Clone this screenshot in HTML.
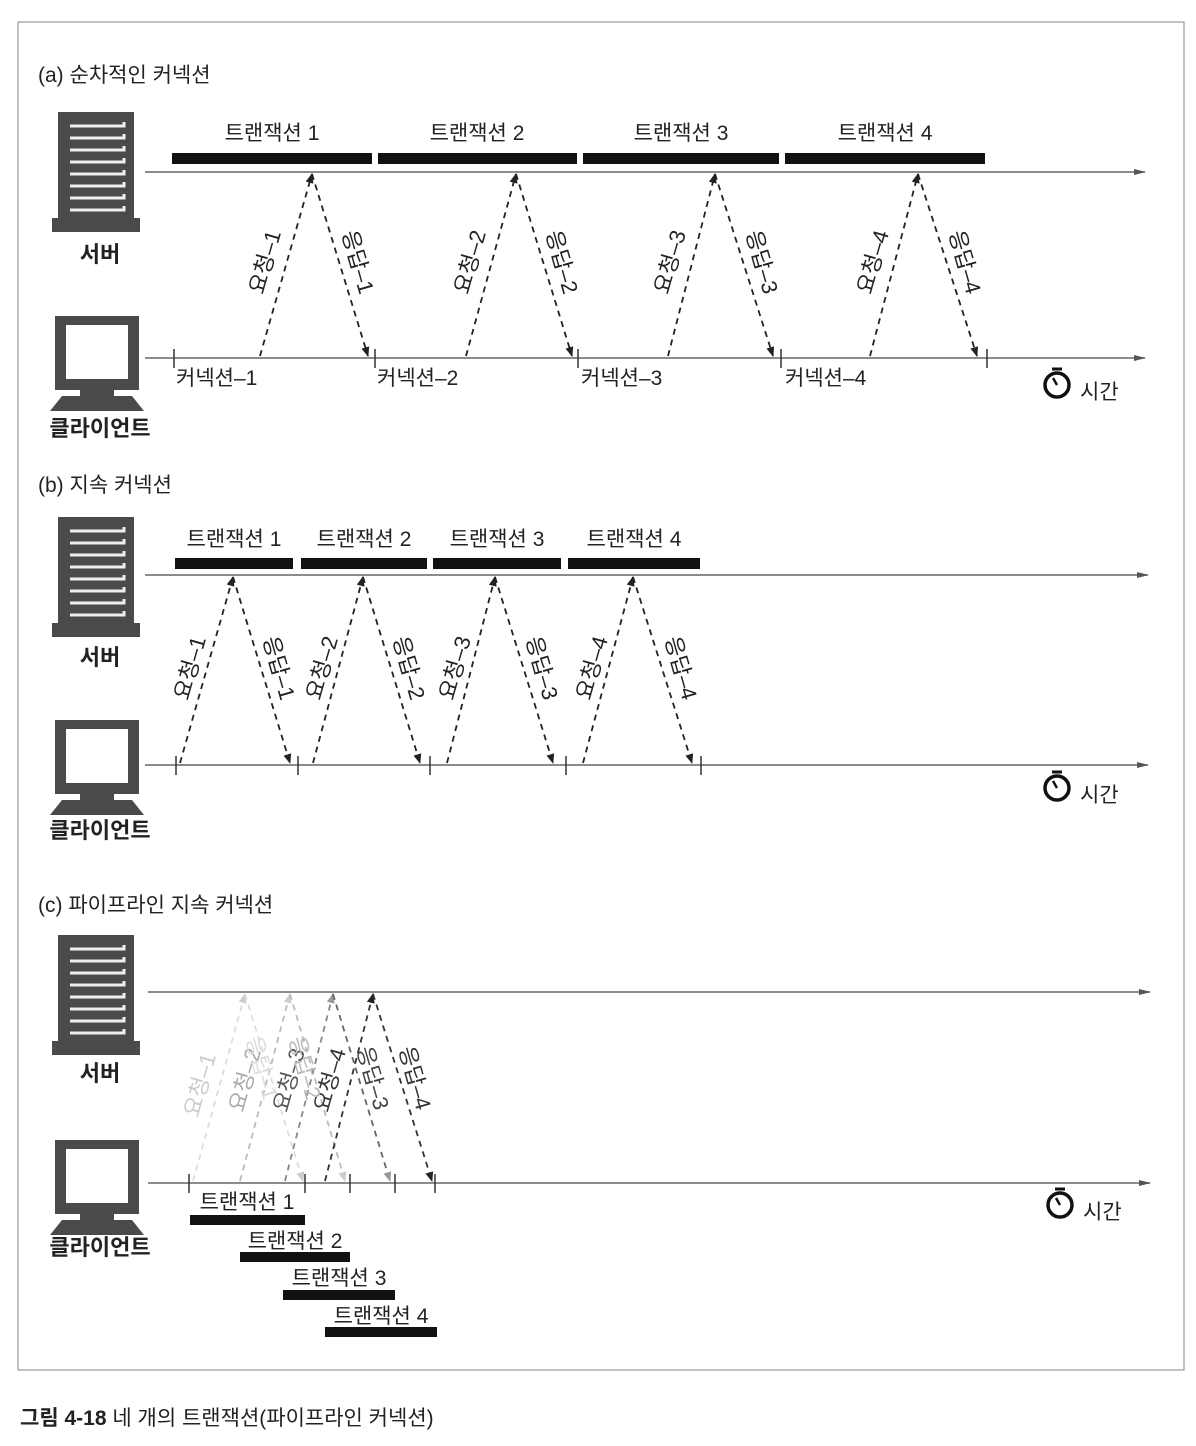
<!DOCTYPE html>
<html><head><meta charset="utf-8"><style>
html,body{margin:0;padding:0;background:#fff;}
svg{display:block;font-family:"Liberation Sans","Noto Sans CJK KR",sans-serif;}
</style></head><body>
<svg width="1196" height="1446" viewBox="0 0 1196 1446" xmlns="http://www.w3.org/2000/svg">
<defs>
<marker id="ah" markerWidth="10" markerHeight="10" refX="9" refY="5" orient="auto" markerUnits="userSpaceOnUse"><path d="M0,1 L10,5 L0,9 z" fill="#222"/></marker>
<marker id="ahg" markerWidth="10" markerHeight="10" refX="9" refY="5" orient="auto" markerUnits="userSpaceOnUse"><path d="M0,1 L10,5 L0,9 z" fill="#999"/></marker>
<marker id="ahl" markerWidth="10" markerHeight="10" refX="9" refY="5" orient="auto" markerUnits="userSpaceOnUse"><path d="M0,1 L10,5 L0,9 z" fill="#ccc"/></marker>
<marker id="tl" markerWidth="12" markerHeight="10" refX="11" refY="5" orient="auto" markerUnits="userSpaceOnUse"><path d="M0,2 L12,5 L0,8 z" fill="#555"/></marker>
<g id="srv">
<rect x="58" y="0" width="76" height="110" fill="#4a4a4a"/>
<rect x="52" y="106" width="88" height="14" fill="#4a4a4a"/>
<g stroke="#eee" stroke-width="3" fill="none">
<path d="M70,14 H124 V10"/><path d="M70,26 H124 V22"/><path d="M70,38 H124 V34"/><path d="M70,50 H124 V46"/><path d="M70,62 H124 V58"/><path d="M70,74 H124 V70"/><path d="M70,86 H124 V82"/><path d="M70,98 H124 V94"/>
</g></g>
<g id="cli">
<rect x="55" y="0" width="84" height="74" fill="#4a4a4a"/>
<rect x="66" y="9" width="62" height="54" fill="#fff"/>
<rect x="80" y="74" width="34" height="6" fill="#4a4a4a"/>
<path d="M62,80 H132 L144,95 H50 Z" fill="#4a4a4a"/>
</g>
<g id="sw" fill="none" stroke="#111">
<circle cx="0" cy="0" r="12" stroke-width="3.5"/>
<line x1="-5" y1="-16" x2="5" y2="-16" stroke-width="3"/>
<line x1="0" y1="0" x2="-4" y2="-7" stroke-width="2.5"/>
</g>
</defs>
<rect x="18" y="22" width="1166" height="1348" fill="none" stroke="#999" stroke-width="1.2"/>

<g font-size="21" fill="#222">
<!-- (a) -->
<text x="38" y="82">(a) 순차적인 커넥션</text>
<use href="#srv" y="112"/>
<text x="100" y="262" text-anchor="middle" font-weight="bold" font-size="22">서버</text>
<use href="#cli" y="316"/>
<text x="100" y="436" text-anchor="middle" font-weight="bold" font-size="22">클라이언트</text>
<line x1="145" y1="172" x2="1145" y2="172" stroke="#666" stroke-width="1.5" marker-end="url(#tl)"/>
<line x1="145" y1="358" x2="1145" y2="358" stroke="#666" stroke-width="1.5" marker-end="url(#tl)"/>
<g fill="#111"><rect x="172" y="153" width="200" height="11"/><rect x="378" y="153" width="199" height="11"/><rect x="583" y="153" width="196" height="11"/><rect x="785" y="153" width="200" height="11"/></g>
<g text-anchor="middle"><text x="272" y="140">트랜잭션 1</text><text x="477" y="140">트랜잭션 2</text><text x="681" y="140">트랜잭션 3</text><text x="885" y="140">트랜잭션 4</text></g>
<g stroke="#333" stroke-width="1.5"><line x1="174" y1="349" x2="174" y2="368"/><line x1="375" y1="349" x2="375" y2="368"/><line x1="578" y1="349" x2="578" y2="368"/><line x1="781" y1="349" x2="781" y2="368"/><line x1="987" y1="349" x2="987" y2="368"/></g>
<text x="176" y="385">커넥션–1</text><text x="377" y="385">커넥션–2</text><text x="581" y="385">커넥션–3</text><text x="785" y="385">커넥션–4</text>
<g stroke="#222" stroke-width="1.8" stroke-dasharray="6,5" fill="none">
<line x1="260" y1="356" x2="312" y2="174" marker-end="url(#ah)"/><line x1="312" y1="174" x2="368" y2="356" marker-end="url(#ah)"/>
<line x1="466" y1="356" x2="516" y2="174" marker-end="url(#ah)"/><line x1="516" y1="174" x2="572" y2="356" marker-end="url(#ah)"/>
<line x1="668" y1="356" x2="715" y2="174" marker-end="url(#ah)"/><line x1="715" y1="174" x2="773" y2="356" marker-end="url(#ah)"/>
<line x1="870" y1="356" x2="918" y2="174" marker-end="url(#ah)"/><line x1="918" y1="174" x2="977" y2="356" marker-end="url(#ah)"/>
</g>
<g text-anchor="middle" dominant-baseline="central" font-size="22">
<text transform="translate(265,262) rotate(-74)">요청–1</text><text transform="translate(358,262) rotate(74)">응답–1</text>
<text transform="translate(470,262) rotate(-74)">요청–2</text><text transform="translate(562,262) rotate(74)">응답–2</text>
<text transform="translate(670,262) rotate(-74)">요청–3</text><text transform="translate(762,262) rotate(74)">응답–3</text>
<text transform="translate(873,262) rotate(-74)">요청–4</text><text transform="translate(965,262) rotate(74)">응답–4</text>
</g>
<use href="#sw" x="1057" y="385"/><text x="1080" y="399">시간</text>

<!-- (b) -->
<text x="38" y="492">(b) 지속 커넥션</text>
<use href="#srv" y="517"/>
<text x="100" y="665" text-anchor="middle" font-weight="bold" font-size="22">서버</text>
<use href="#cli" y="720"/>
<text x="100" y="838" text-anchor="middle" font-weight="bold" font-size="22">클라이언트</text>
<line x1="145" y1="575" x2="1148" y2="575" stroke="#666" stroke-width="1.5" marker-end="url(#tl)"/>
<line x1="145" y1="765" x2="1148" y2="765" stroke="#666" stroke-width="1.5" marker-end="url(#tl)"/>
<g fill="#111"><rect x="175" y="558" width="118" height="11"/><rect x="301" y="558" width="126" height="11"/><rect x="433" y="558" width="128" height="11"/><rect x="568" y="558" width="132" height="11"/></g>
<g text-anchor="middle"><text x="234" y="546">트랜잭션 1</text><text x="364" y="546">트랜잭션 2</text><text x="497" y="546">트랜잭션 3</text><text x="634" y="546">트랜잭션 4</text></g>
<g stroke="#333" stroke-width="1.5"><line x1="176" y1="756" x2="176" y2="775"/><line x1="298" y1="756" x2="298" y2="775"/><line x1="430" y1="756" x2="430" y2="775"/><line x1="566" y1="756" x2="566" y2="775"/><line x1="701" y1="756" x2="701" y2="775"/></g>
<g stroke="#222" stroke-width="1.8" stroke-dasharray="6,5" fill="none">
<line x1="180" y1="763" x2="233" y2="577" marker-end="url(#ah)"/><line x1="233" y1="577" x2="290" y2="763" marker-end="url(#ah)"/>
<line x1="313" y1="763" x2="363" y2="577" marker-end="url(#ah)"/><line x1="363" y1="577" x2="420" y2="763" marker-end="url(#ah)"/>
<line x1="447" y1="763" x2="495" y2="577" marker-end="url(#ah)"/><line x1="495" y1="577" x2="553" y2="763" marker-end="url(#ah)"/>
<line x1="583" y1="763" x2="633" y2="577" marker-end="url(#ah)"/><line x1="633" y1="577" x2="692" y2="763" marker-end="url(#ah)"/>
</g>
<g text-anchor="middle" dominant-baseline="central" font-size="22">
<text transform="translate(190,668) rotate(-74)">요청–1</text><text transform="translate(279,668) rotate(74)">응답–1</text>
<text transform="translate(322,668) rotate(-74)">요청–2</text><text transform="translate(409,668) rotate(74)">응답–2</text>
<text transform="translate(455,668) rotate(-74)">요청–3</text><text transform="translate(542,668) rotate(74)">응답–3</text>
<text transform="translate(592,668) rotate(-74)">요청–4</text><text transform="translate(681,668) rotate(74)">응답–4</text>
</g>
<use href="#sw" x="1057" y="788"/><text x="1080" y="802">시간</text>

<!-- (c) -->
<text x="38" y="912">(c) 파이프라인 지속 커넥션</text>
<use href="#srv" y="935"/>
<text x="100" y="1081" text-anchor="middle" font-weight="bold" font-size="22">서버</text>
<use href="#cli" y="1140"/>
<text x="100" y="1255" text-anchor="middle" font-weight="bold" font-size="22">클라이언트</text>
<line x1="148" y1="992" x2="1150" y2="992" stroke="#666" stroke-width="1.5" marker-end="url(#tl)"/>
<line x1="148" y1="1183" x2="1150" y2="1183" stroke="#666" stroke-width="1.5" marker-end="url(#tl)"/>
<g stroke="#333" stroke-width="1.5"><line x1="189" y1="1174" x2="189" y2="1193"/><line x1="305" y1="1174" x2="305" y2="1193"/><line x1="350" y1="1174" x2="350" y2="1193"/><line x1="395" y1="1174" x2="395" y2="1193"/><line x1="435" y1="1174" x2="435" y2="1193"/></g>
<g stroke-width="1.8" stroke-dasharray="6,5" fill="none">
<line x1="193" y1="1181" x2="245" y2="994" stroke="#ddd" marker-end="url(#ahl)"/>
<line x1="245" y1="994" x2="303" y2="1181" stroke="#ddd" marker-end="url(#ahl)"/>
<line x1="240" y1="1181" x2="290" y2="994" stroke="#bbb" marker-end="url(#ahl)"/>
<line x1="290" y1="994" x2="345" y2="1181" stroke="#bbb" marker-end="url(#ahl)"/>
<line x1="285" y1="1181" x2="333" y2="994" stroke="#888" marker-end="url(#ahg)"/>
<line x1="333" y1="994" x2="390" y2="1181" stroke="#666" marker-end="url(#ahg)"/>
<line x1="325" y1="1181" x2="373" y2="994" stroke="#333" marker-end="url(#ah)"/>
<line x1="373" y1="994" x2="432" y2="1181" stroke="#333" marker-end="url(#ah)"/>
</g>
<g text-anchor="middle" dominant-baseline="central" font-size="22">
<text transform="translate(200,1085) rotate(-74)" fill="#ccc">요청–1</text>
<text transform="translate(245,1080) rotate(-74)" fill="#aaa">요청–2</text>
<text transform="translate(289,1080) rotate(-74)" fill="#555">요청–3</text>
<text transform="translate(330,1080) rotate(-74)" fill="#333">요청–4</text>
<text transform="translate(262,1068) rotate(74)" fill="#ddd">응답–1</text>
<text transform="translate(305,1068) rotate(74)" fill="#bbb">응답–2</text>
<text transform="translate(373,1078) rotate(74)" fill="#444">응답–3</text>
<text transform="translate(415,1078) rotate(74)" fill="#333">응답–4</text>
</g>
<g fill="#111"><rect x="190" y="1215" width="115" height="10"/><rect x="240" y="1252" width="110" height="10"/><rect x="283" y="1290" width="112" height="10"/><rect x="325" y="1327" width="112" height="10"/></g>
<g text-anchor="middle"><text x="247" y="1209">트랜잭션 1</text><text x="295" y="1248">트랜잭션 2</text><text x="339" y="1285">트랜잭션 3</text><text x="381" y="1323">트랜잭션 4</text></g>
<use href="#sw" x="1060" y="1205"/><text x="1083" y="1219">시간</text>

<text x="20" y="1425" font-size="21"><tspan font-weight="bold">그림 4-18</tspan> 네 개의 트랜잭션(파이프라인 커넥션)</text>
</g>
</svg>
</body></html>
